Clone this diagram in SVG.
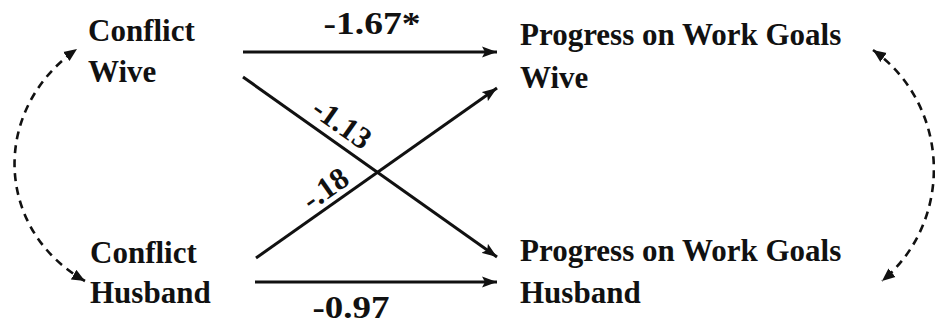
<svg xmlns="http://www.w3.org/2000/svg" width="935" height="326" viewBox="0 0 935 326">
<style>
text{font-family:'Liberation Serif','DejaVu Serif',serif;font-weight:bold;font-size:31px;fill:#111}
.a{stroke:#111;stroke-width:3;fill:none}
.d{stroke:#111;stroke-width:2.6;fill:none;stroke-dasharray:8 6}
</style>
<defs>
<marker id="ah" markerUnits="userSpaceOnUse" markerWidth="16" markerHeight="12" refX="15" refY="6" orient="auto-start-reverse" viewBox="0 0 16 12">
<path d="M0,0.5 L15,6 L0,11.5 L3,6 z" fill="#111"/>
</marker>
<marker id="dh" markerUnits="userSpaceOnUse" markerWidth="14" markerHeight="12" refX="13" refY="6" orient="auto-start-reverse" viewBox="0 0 14 12">
<path d="M0,0.5 L13,6 L0,11.5 z" fill="#111"/>
</marker>
</defs>
<g id="conflict-wive"><text font-family="Liberation Serif, serif" x="88" y="41">Conflict</text><text font-family="Liberation Serif, serif" x="88" y="82">Wive</text></g>
<g id="conflict-husband"><text font-family="Liberation Serif, serif" x="90" y="263">Conflict</text><text font-family="Liberation Serif, serif" x="90" y="303">Husband</text></g>
<g id="progress-wive"><text font-family="Liberation Serif, serif" x="520" y="45">Progress on Work Goals</text><text font-family="Liberation Serif, serif" x="520" y="88">Wive</text></g>
<g id="progress-husband"><text font-family="Liberation Serif, serif" x="520" y="261">Progress on Work Goals</text><text font-family="Liberation Serif, serif" x="520" y="303">Husband</text></g>
<g id="connectors">
<line class="a" x1="243" y1="52" x2="497" y2="52" marker-end="url(#ah)"/>
<line class="a" x1="243" y1="77" x2="497" y2="257" marker-end="url(#ah)"/>
<line class="a" x1="256" y1="258" x2="497" y2="88" marker-end="url(#ah)"/>
<line class="a" x1="255" y1="282" x2="497" y2="282" marker-end="url(#ah)"/>
<path class="d" d="M85,281 C-5,230 -10,110 77,49" marker-start="url(#dh)" marker-end="url(#dh)"/>
<path class="d" d="M873,50 C950,105 955,220 882,281" marker-start="url(#dh)" marker-end="url(#dh)"/>
<text font-family="Liberation Serif, serif" x="372" y="34" text-anchor="middle" textLength="97" lengthAdjust="spacingAndGlyphs">-1.67*</text>
<text font-family="Liberation Serif, serif" x="351" y="318" font-size="30" text-anchor="middle" textLength="77" lengthAdjust="spacingAndGlyphs">-0.97</text>
<text font-family="Liberation Serif, serif" text-anchor="middle" transform="translate(336,132) rotate(35.3)">-1.13</text>
<text font-family="Liberation Serif, serif" text-anchor="middle" transform="translate(331,197) rotate(-35.2)">-.18</text>
</g>
</svg>
